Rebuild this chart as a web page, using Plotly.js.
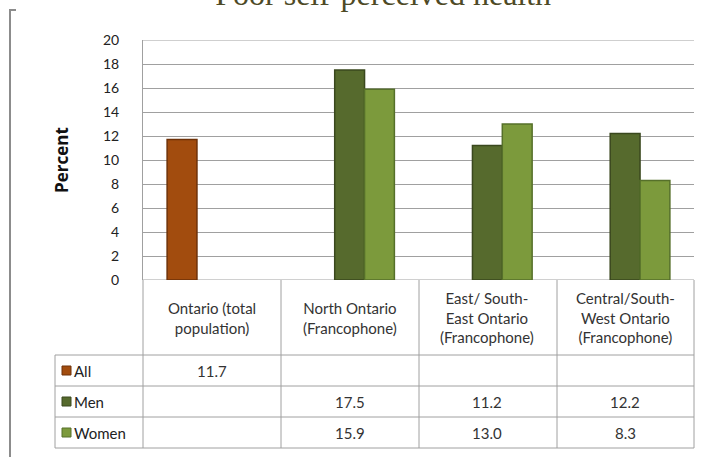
<!DOCTYPE html>
<html>
<head>
<meta charset="utf-8">
<script src="https://cdn.plot.ly/plotly-3.0.1.min.js"></script>
<style>html,body{margin:0;padding:0;background:#fff;}#chart{width:707px;height:457px;}</style>
</head>
<body>
<div id="chart"></div>
<script>
// ---- data ----
const categories = ["Ontario (total<br>population)", "North Ontario<br>(Francophone)", "East/ South-<br>East Ontario<br>(Francophone)", "Central/South-<br>West Ontario<br>(Francophone)"];
const seriesNames = ["All", "Men", "Women"];
const allValues = [11.7, null, null, null];
const menValues = [null, 17.5, 11.2, 12.2];
const womenValues = [null, 15.9, 13.0, 8.3];
const yTicks = [0, 2, 4, 6, 8, 10, 12, 14, 16, 18, 20];

const colors = ["#A24C0E", "#566A2D", "#7C9A3C"];
const edgeColors = ["#6E3108", "#3A481E", "#56702A"];
const seriesValues = [allValues, menValues, womenValues];

const W = 707, H = 457;
const px = v => v / W, py = v => 1 - v / H;
const xIdx = categories.map((c, i) => i);

const traces = seriesValues.map((vals, s) => ({
  type: "bar",
  name: seriesNames[s],
  x: xIdx,
  y: vals,
  marker: {color: colors[s], line: {color: edgeColors[s], width: 1.5}},
  hoverinfo: "y+name"
}));

const grey = "#A0A0A0";
const FONT = "Lato, 'Open Sans', sans-serif";
const shapes = [];
const annotations = [];
const tableTop = 280, headerBottom = 355, rowH = 31, tableLeft = 55, tableRight = 694;
const rowTops = [headerBottom, headerBottom + rowH, headerBottom + 2 * rowH];
const tableBottom = headerBottom + 3 * rowH;
const colEdges = [143, 281, 419, 557, 694];

// gridlines at the range ends (Plotly drops them)
[yTicks[0], yTicks[yTicks.length - 1]].forEach(v => {
  shapes.push({type: "line", xref: "x", yref: "y", x0: -0.5, x1: 3.5, y0: v, y1: v,
    line: {color: grey, width: 1}, layer: "below"});
});
// vertical table lines
colEdges.forEach(xv => {
  shapes.push({type: "line", xref: "paper", yref: "paper", x0: px(xv), x1: px(xv),
    y0: py(tableTop), y1: py(tableBottom), line: {color: grey, width: 1}});
});
// left column line
shapes.push({type: "line", xref: "paper", yref: "paper", x0: px(tableLeft), x1: px(tableLeft),
  y0: py(headerBottom), y1: py(tableBottom), line: {color: grey, width: 1}});
// horizontal table lines
[headerBottom, headerBottom + rowH, headerBottom + 2 * rowH, tableBottom].forEach(yv => {
  shapes.push({type: "line", xref: "paper", yref: "paper", x0: px(tableLeft), x1: px(tableRight),
    y0: py(yv), y1: py(yv), line: {color: grey, width: 1}});
});
// left bracket of chart frame
shapes.push({type: "path", xref: "paper", yref: "paper",
  path: `M ${px(16)} ${py(10)} L ${px(10)} ${py(10)} L ${px(10)} ${py(460)}`,
  line: {color: "#8C8C8C", width: 2}});

// header labels
categories.forEach((c, i) => {
  annotations.push({xref: "x", yref: "paper", x: i, y: py((tableTop + headerBottom) / 2),
    text: c, showarrow: false, xanchor: "center", yanchor: "middle",
    font: {family: FONT, size: 15, color: "#333"}});
});
// rows
seriesValues.forEach((vals, s) => {
  const yc = rowTops[s] + rowH / 2;
  shapes.push({type: "rect", xref: "paper", yref: "paper", x0: px(62), x1: px(71),
    y0: py(yc - 4.5), y1: py(yc + 4.5), fillcolor: colors[s], line: {color: edgeColors[s], width: 1}});
  annotations.push({xref: "paper", yref: "paper", x: px(72), y: py(yc), text: seriesNames[s],
    showarrow: false, xanchor: "left", yanchor: "middle",
    font: {family: FONT, size: 15, color: "#222"}});
  vals.forEach((v, i) => {
    if (v === null) return;
    annotations.push({xref: "x", yref: "paper", x: i, y: py(yc), text: v.toFixed(1),
      showarrow: false, xanchor: "center", yanchor: "middle",
      font: {family: FONT, size: 15, color: "#333"}});
  });
});

const layout = {
  width: W, height: H,
  margin: {l: 0, r: 0, t: 0, b: 0},
  paper_bgcolor: "#fff", plot_bgcolor: "#fff",
  showlegend: false,
  barmode: "group",
  bargap: 0.35,
  bargroupgap: 0,
  title: {text: "Poor self-perceived health", x: 0.542, xanchor: "center",
    y: py(5), yanchor: "bottom", yref: "container",
    font: {family: "'Liberation Serif', 'DejaVu Serif', serif", size: 32, color: "#4E4A26"}},
  xaxis: {domain: [px(143), px(694)], range: [-0.5, 3.5], type: "linear",
    showticklabels: false, showgrid: false, zeroline: false, showline: false, ticks: ""},
  yaxis: {domain: [py(280), py(40)], range: [0, 20], tickvals: yTicks,
    showgrid: true, gridcolor: grey, gridwidth: 1, zeroline: false,
    showline: true, linecolor: grey, linewidth: 1, ticks: "", ticklabelstandoff: 20,
    tickfont: {family: FONT, size: 14, color: "#222"},
    title: {text: "Percent", standoff: 30,
      font: {family: "'Open Sans', Lato, sans-serif", size: 17, color: "#111", weight: "bold"}}},
  shapes: shapes,
  annotations: annotations
};

Plotly.newPlot("chart", traces, layout, {displayModeBar: false, staticPlot: true});
</script>
</body>
</html>
